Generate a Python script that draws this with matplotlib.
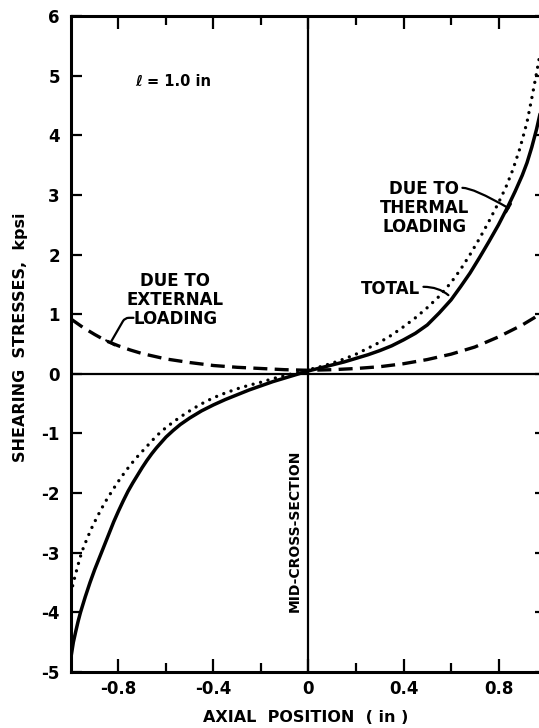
import matplotlib
matplotlib.use("Agg")
import matplotlib.pyplot as plt

plt.rcParams["font.family"] = ["DejaVu Sans"]
plt.rcParams["font.weight"] = "bold"

# Shearing stress along the joint, kpsi, versus axial position, in
x_thermal = [-1.0, -0.99, -0.98, -0.97, -0.96, -0.95, -0.94, -0.93, -0.92, -0.91,
             -0.9, -0.88, -0.86, -0.84, -0.82, -0.8, -0.78, -0.76, -0.74, -0.72,
             -0.7, -0.68, -0.66, -0.64, -0.62, -0.6, -0.57, -0.54, -0.5, -0.45,
             -0.4, -0.35, -0.3, -0.25, -0.2, -0.15, -0.1, -0.05, 0.0,
             0.05, 0.1, 0.15, 0.2, 0.25, 0.3, 0.35, 0.4, 0.45, 0.5, 0.55, 0.6,
             0.64, 0.68, 0.72, 0.76, 0.8, 0.84, 0.87, 0.9, 0.92, 0.94, 0.96, 0.98, 1.0]
y_thermal = [-4.75, -4.5, -4.32, -4.15, -4.0, -3.87, -3.74, -3.62, -3.5, -3.39,
             -3.28, -3.08, -2.88, -2.68, -2.48, -2.3, -2.13, -1.97, -1.83, -1.7,
             -1.57, -1.45, -1.34, -1.24, -1.15, -1.06, -0.95, -0.85, -0.74, -0.62,
             -0.52, -0.43, -0.35, -0.27, -0.2, -0.13, -0.07, -0.01, 0.05,
             0.1, 0.15, 0.2, 0.26, 0.32, 0.39, 0.47, 0.57, 0.68, 0.82, 1.02, 1.24,
             1.46, 1.69, 1.95, 2.22, 2.5, 2.81, 3.06, 3.33, 3.54, 3.8, 4.1, 4.45, 4.85]

x_total = [-1.0, -0.99, -0.98, -0.97, -0.96, -0.95, -0.93, -0.91, -0.89, -0.87,
           -0.85, -0.82, -0.79, -0.76, -0.73, -0.7, -0.67, -0.64, -0.6, -0.56,
           -0.52, -0.48, -0.44, -0.4, -0.35, -0.3, -0.25, -0.2, -0.15, -0.1, -0.05, 0.0,
           0.05, 0.1, 0.15, 0.2, 0.25, 0.3, 0.35, 0.4, 0.45, 0.5, 0.55, 0.6,
           0.64, 0.68, 0.72, 0.76, 0.8, 0.83, 0.86, 0.89, 0.92, 0.94, 0.96, 0.98, 1.0]
y_total = [-3.68, -3.5, -3.35, -3.2, -3.06, -2.94, -2.74, -2.56, -2.4, -2.25,
           -2.11, -1.92, -1.74, -1.58, -1.43, -1.3, -1.17, -1.04, -0.9, -0.78,
           -0.67, -0.57, -0.48, -0.4, -0.32, -0.25, -0.19, -0.14, -0.08, -0.03, 0.02, 0.07,
           0.12, 0.18, 0.25, 0.33, 0.43, 0.53, 0.65, 0.79, 0.94, 1.11, 1.3, 1.53,
           1.75, 2.0, 2.27, 2.56, 2.87, 3.12, 3.42, 3.78, 4.22, 4.62, 5.04, 5.48, 5.95]

x_external = [-1.0, -0.975, -0.95, -0.9, -0.85, -0.8, -0.75, -0.7, -0.6, -0.5, -0.4,
              -0.3, -0.2, -0.1, 0.0, 0.1, 0.2, 0.3, 0.4, 0.5, 0.6, 0.7, 0.8, 0.9,
              0.95, 1.0]
y_external = [0.92, 0.85, 0.78, 0.66, 0.55, 0.47, 0.4, 0.34, 0.25, 0.19, 0.14,
              0.11, 0.09, 0.07, 0.06, 0.07, 0.09, 0.12, 0.17, 0.24, 0.33, 0.45, 0.62,
              0.82, 0.94, 1.08]

x_major = [-0.8, -0.4, 0.0, 0.4, 0.8]
x_major_labels = ["-0.8", "-0.4", "0", "0.4", "0.8"]
x_minor = [-0.6, -0.2, 0.2, 0.6]
y_ticks = [-5, -4, -3, -2, -1, 0, 1, 2, 3, 4, 5, 6]
y_tick_labels = ["-5", "-4", "-3", "-2", "-1", "0", "1", "2", "3", "4", "5", "6"]

fig = plt.figure(figsize=(5.39, 7.28), dpi=100)
ax = fig.add_axes([0.1317, 0.0769, 0.8813, 0.901])
ax.set_xlim(-1.0, 1.0)
ax.set_ylim(-5, 6)

for s in ax.spines.values():
    s.set_linewidth(2.2)

ax.axhline(0, color="black", lw=1.6, zorder=1)
ax.axvline(0, color="black", lw=1.6, zorder=1)

ax.plot(x_thermal, y_thermal, color="black", lw=2.5, solid_capstyle="round",
        solid_joinstyle="round", zorder=3)
ax.plot(x_total, y_total, color="black", lw=2.4, linestyle=(0, (0.01, 2.3)),
        dash_capstyle="round", zorder=3)
ax.plot(x_external, y_external, color="black", lw=2.4, linestyle=(0, (4.2, 2.2)),
        zorder=3)

ax.set_xticks(x_major)
ax.set_xticklabels(x_major_labels)
ax.set_xticks(x_minor, minor=True)
ax.set_yticks(y_ticks)
ax.set_yticklabels(y_tick_labels)
ax.tick_params(axis="both", which="both", direction="in", top=True, right=True,
               width=1.6, labelsize=12)
ax.tick_params(axis="x", which="major", length=9.5, pad=6)
ax.tick_params(axis="x", which="minor", length=6.5)
ax.tick_params(axis="y", which="major", length=8, pad=8)
for lab in ax.get_xticklabels() + ax.get_yticklabels():
    lab.set_fontweight("bold")

ax.set_xlabel("AXIAL  POSITION  ( in )", fontsize=11.5, fontweight="bold")
ax.xaxis.set_label_coords(0.495, -0.070)
ax.xaxis.label.set_va("center")
ax.set_ylabel("SHEARING  STRESSES,  kpsi", fontsize=11.5, fontweight="bold")
ax.yaxis.set_label_coords(-0.107, 0.51)
ax.yaxis.label.set_va("center")

ax.text(-0.568, 4.9, "ℓ = 1.0 in", fontsize=10.5, fontweight="bold",
        ha="center", va="center")

ax.text(-0.56, 1.24, "DUE TO\nEXTERNAL\nLOADING", fontsize=12, fontweight="bold",
        ha="center", va="center", linespacing=1.05)
ax.annotate("", xy=(-0.834, 0.52), xytext=(-0.737, 0.94),
            arrowprops=dict(arrowstyle="-[, widthB=0.35, lengthB=0", lw=1.6,
                            connectionstyle="angle,angleA=180,angleB=60,rad=4",
                            shrinkA=0, shrinkB=0))

ax.text(0.488, 2.78, "DUE TO\nTHERMAL\nLOADING", fontsize=12, fontweight="bold",
        ha="center", va="center", linespacing=1.05)
ax.annotate("", xy=(0.842, 2.78), xytext=(0.648, 3.12),
            arrowprops=dict(arrowstyle="-[, widthB=0.35, lengthB=0", lw=1.6,
                            connectionstyle="angle3,angleA=0,angleB=-30",
                            shrinkA=0, shrinkB=0))

ax.text(0.345, 1.43, "TOTAL", fontsize=12, fontweight="bold", ha="center", va="center")
ax.annotate("", xy=(0.589, 1.32), xytext=(0.484, 1.46),
            arrowprops=dict(arrowstyle="-", lw=1.6,
                            connectionstyle="angle3,angleA=0,angleB=-40",
                            shrinkA=0, shrinkB=0))

ax.text(-0.059, -2.63, "MID-CROSS-SECTION", fontsize=10, fontweight="bold",
        rotation=90, ha="center", va="center")

fig.savefig("out.png", dpi=100)
